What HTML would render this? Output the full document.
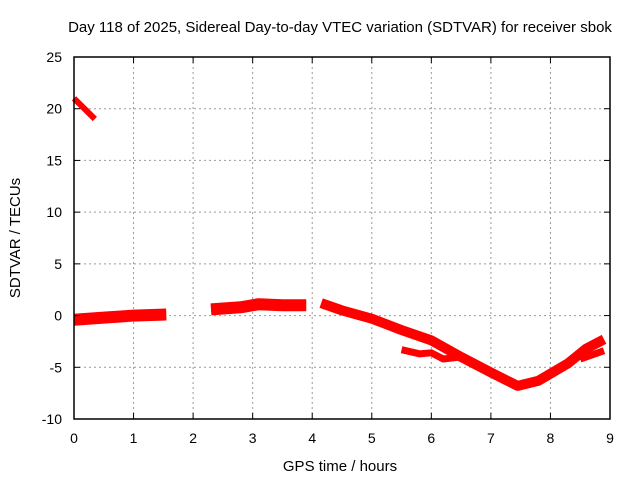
<!DOCTYPE html>
<html><head><meta charset="utf-8"><style>
body{margin:0;background:#fff}
svg{display:block;font-family:"Liberation Sans",sans-serif}
</style></head><body>
<svg id="chart" width="640" height="480">
<text x="340" y="32" text-anchor="middle" font-size="15">Day 118 of 2025, Sidereal Day-to-day VTEC variation (SDTVAR) for receiver sbok</text>
<text x="340" y="471" text-anchor="middle" font-size="15">GPS time / hours</text>
<text transform="translate(20,238) rotate(-90)" text-anchor="middle" font-size="15">SDTVAR / TECUs</text>
<g id="grid"></g><g id="series"></g>
<rect x="74" y="57" width="536" height="362" fill="none" stroke="#000" stroke-width="1.5"/>
<g id="ticks"></g>
</svg>
<script>
const xTicks=[0,1,2,3,4,5,6,7,8,9];
const yTicks=[-10,-5,0,5,10,15,20,25];
const segA=[[0,21],[0.35,19]];
const segB=[[0,-0.4],[0.5,-0.2],[1,0],[1.55,0.1]];
const segC=[[2.3,0.6],[2.8,0.8],[3.1,1.1],[3.5,1.0],[3.9,1.0]];
const segD=[[4.15,1.2],[4.5,0.5],[5.0,-0.3],[5.5,-1.4],[6.0,-2.4],[6.5,-4.0],[7.0,-5.5],[7.45,-6.8],[7.8,-6.3],[8.3,-4.6],[8.6,-3.2],[8.9,-2.3]];
const segE=[[5.5,-3.3],[5.8,-3.7],[6.0,-3.6],[6.2,-4.2],[6.5,-4.0],[6.8,-4.8]];
const segF=[[8.5,-4.2],[8.9,-3.4]];
const seriesList=[segA,segB,segC,segD,segE,segF];
const widths=[6,12,12,10,7,7];
const X=h=>74+h*536/9, Y=v=>57+(25-v)*362/35;
const ns="http://www.w3.org/2000/svg";
const g=document.getElementById('grid'), s=document.getElementById('series'), tk=document.getElementById('ticks');
function mk(parent,tag,attrs){const e=document.createElementNS(ns,tag);for(const k in attrs)e.setAttribute(k,attrs[k]);parent.appendChild(e);return e;}
xTicks.forEach(t=>{
 const l=mk(g,'line',{x1:X(t),x2:X(t),y1:57,y2:419,stroke:'#999','stroke-dasharray':'2,3'});
 
 
 const m1=mk(tk,'line',{x1:X(t),x2:X(t),y1:419,y2:413,stroke:'#000'});
 
 
 const m2=mk(tk,'line',{x1:X(t),x2:X(t),y1:57,y2:63,stroke:'#000'});
 
 
 const tx=mk(g,'text',{x:X(t),y:443,'text-anchor':'middle','font-size':14});
 
 
 tx.textContent=t;
});
yTicks.forEach(t=>{
 const l=mk(g,'line',{x1:74,x2:610,y1:Y(t),y2:Y(t),stroke:'#999','stroke-dasharray':'2,3'});
 
 
 const m1=mk(tk,'line',{x1:74,x2:80,y1:Y(t),y2:Y(t),stroke:'#000'});
 
 
 const m2=mk(tk,'line',{x1:604,x2:610,y1:Y(t),y2:Y(t),stroke:'#000'});
 
 
 const tx=mk(g,'text',{x:62,y:Y(t)+5,'text-anchor':'end','font-size':14});
 
 
 tx.textContent=t;
});
seriesList.forEach((seg,i)=>{
 const p=mk(s,'polyline',{points:seg.map(d=>X(d[0])+','+Y(d[1])).join(' '),fill:'none',stroke:'#f00','stroke-width':widths[i],'stroke-linejoin':'round'});
 
 
});
</script>
</body></html>
